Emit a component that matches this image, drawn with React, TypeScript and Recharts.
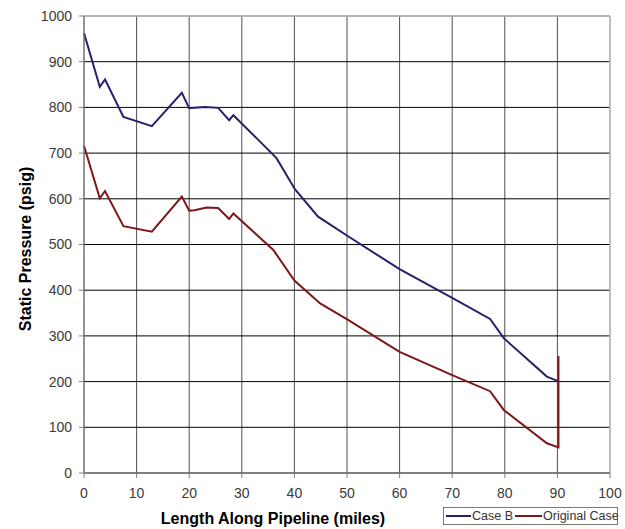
import { CartesianGrid, Legend, Line, LineChart, ReferenceLine, XAxis, YAxis } from "recharts";

// Static pressure profile along the pipeline, Case B vs the original case.

const caseBMiles = [0, 3, 4, 7.5, 12.9, 18.6, 20, 21, 23, 25.5, 27.6, 28.4, 36.6, 40.1, 44.5, 50.2, 60, 70, 77.2, 79.8, 88, 90.1];
const caseBPsig = [963, 845, 861, 779, 759, 832, 798, 799, 801, 799, 772, 783, 689, 621, 561, 518, 446, 383, 337, 295, 211, 201];

const originalMiles = [0, 3, 4, 7.5, 12.9, 18.6, 20, 21, 23.3, 25.5, 27.6, 28.4, 36, 40, 44.9, 50.2, 60, 70, 77.2, 79.8, 88, 90.2, 90.2];
const originalPsig = [716, 601, 617, 540, 528, 605, 574, 575, 581, 580, 556, 568, 488, 421, 371, 335, 265, 214, 179, 138, 65, 56, 256];

const xTicks = [0, 10, 20, 30, 40, 50, 60, 70, 80, 90, 100];
const yTicks = [0, 100, 200, 300, 400, 500, 600, 700, 800, 900, 1000];

const CASE_B = "#2d1d6c";
const ORIGINAL = "#7d1719";

const caseBData = caseBMiles.map((miles, i) => ({ miles, psig: caseBPsig[i] }));
const originalData = originalMiles.map((miles, i) => ({ miles, psig: originalPsig[i] }));

const FONT = "'Liberation Sans', Arial, sans-serif";
const tickStyle = { fontFamily: FONT, fontSize: 14, fill: "#3a3a3a" };
const titleStyle = { fontFamily: FONT, fontWeight: 700, fontSize: 16, fill: "#000" };

// Axis titles sit off-centre in the original, so they are placed by hand rather than by Label positions.
const XTitle = () => (
  <text x={273} y={518} textAnchor="middle" dominantBaseline="central" style={titleStyle}>
    Length Along Pipeline (miles)
  </text>
);

const YTitle = () => (
  <text
    x={25}
    y={249}
    textAnchor="middle"
    dominantBaseline="central"
    transform="rotate(-90 25 249)"
    style={titleStyle}
  >
    Static Pressure (psig)
  </text>
);

const LegendBox = () => (
  <div
    style={{
      border: "1px solid #7a7a7a",
      background: "#fff",
      height: 18,
      width: 175,
      boxSizing: "border-box",
      display: "flex",
      alignItems: "center",
      whiteSpace: "nowrap",
      fontFamily: FONT,
      fontSize: 12.5,
      color: "#333",
      paddingLeft: 2,
    }}
  >
    <span style={{ width: 25, height: 2, background: CASE_B, flex: "none" }} />
    <span style={{ marginRight: 2, marginLeft: 1 }}>Case B</span>
    <span style={{ width: 27, height: 2, background: ORIGINAL, flex: "none" }} />
    <span style={{ marginLeft: 1 }}>Original Case</span>
  </div>
);

export default function App() {
  return (
    <div style={{ position: "absolute", left: 0, top: 0, width: 625, height: 529, background: "#fff" }}>
      <LineChart width={625} height={529} margin={{ top: 16, right: 15, bottom: 0, left: 0 }}>
        <CartesianGrid horizontal={false} stroke="#505050" strokeDasharray="" />
        <CartesianGrid vertical={false} stroke="#000" strokeDasharray="" />
        <XAxis
          type="number"
          dataKey="miles"
          domain={[0, 100]}
          ticks={xTicks}
          allowDuplicatedCategory={false}
          height={56}
          stroke="#808080"
          tickSize={5}
          tickMargin={10}
          tick={tickStyle}
          label={<XTitle />}
        />
        <YAxis
          type="number"
          dataKey="psig"
          domain={[0, 1000]}
          ticks={yTicks}
          width={84}
          stroke="#808080"
          tickSize={5}
          tickMargin={7}
          tick={tickStyle}
          label={<YTitle />}
        />
        <ReferenceLine y={1000} stroke="#c8c4c4" strokeWidth={1.5} />
        <ReferenceLine x={100} stroke="#c8c4c4" strokeWidth={1.5} />
        <Line
          data={caseBData}
          dataKey="psig"
          name="Case B"
          stroke={CASE_B}
          strokeWidth={2}
          dot={false}
          type="linear"
          isAnimationActive={false}
        />
        <Line
          data={originalData}
          dataKey="psig"
          name="Original Case"
          stroke={ORIGINAL}
          strokeWidth={2}
          dot={false}
          type="linear"
          isAnimationActive={false}
        />
        <Legend
          layout="horizontal"
          verticalAlign="middle"
          align="center"
          content={() => <LegendBox />}
          wrapperStyle={{ position: "absolute", left: 443, top: 507, width: 175, height: 18 }}
        />
      </LineChart>
    </div>
  );
}
